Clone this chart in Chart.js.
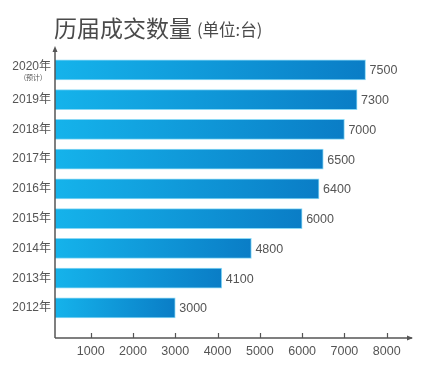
<!DOCTYPE html>
<html><head><meta charset="utf-8">
<script src="https://cdn.jsdelivr.net/npm/chart.js@4/dist/chart.umd.min.js"></script>
<style>html,body{margin:0;padding:0;background:#fff}#wrap{width:444px;height:377px}</style>
</head><body><div id="wrap"><canvas id="c" width="444" height="377"></canvas></div>
<script>
const categories = ['2012年','2013年','2014年','2015年','2016年','2017年','2018年','2019年','2020年'];
const values = [3000,4100,4800,6000,6400,6500,7000,7300,7500];
const xTickValues = [1000,2000,3000,4000,5000,6000,7000,8000];
const titleMain = '历届成交数量';
const titleUnit = '(单位:台)';
const noteLabel = '(预计)';
const noteIndex = 8;

const FONT = '"Liberation Sans","Noto Sans CJK SC",sans-serif';
const TFONT = '"Noto Sans CJK SC",sans-serif';
const GREY = '#555555';

const overlay = {
  id: 'overlay',
  afterDraw(chart) {
    const ctx = chart.ctx, a = chart.chartArea, xs = chart.scales.x, ys = chart.scales.y;
    ctx.save();
    // title
    ctx.fillStyle = '#4a4a4a';
    ctx.textBaseline = 'alphabetic';
    ctx.textAlign = 'left';
    ctx.font = '23px ' + TFONT;
    ctx.fillText(titleMain, 54, 37);
    const w = ctx.measureText(titleMain).width;
    ctx.font = '16.5px ' + TFONT;
    ctx.fillText(titleUnit, 54 + w + 5, 36);
    // axes
    ctx.strokeStyle = GREY; ctx.fillStyle = GREY; ctx.lineWidth = 1.5;
    ctx.beginPath();
    ctx.moveTo(a.left, a.bottom); ctx.lineTo(a.left, a.top + 2);
    ctx.moveTo(a.left, a.bottom); ctx.lineTo(a.right + 2, a.bottom);
    ctx.stroke();
    ctx.beginPath();
    ctx.moveTo(a.left, a.top - 1); ctx.lineTo(a.left - 2.5, a.top + 5); ctx.lineTo(a.left + 2.5, a.top + 5); ctx.closePath(); ctx.fill();
    ctx.beginPath();
    ctx.moveTo(a.right + 3, a.bottom); ctx.lineTo(a.right - 3, a.bottom - 2.5); ctx.lineTo(a.right - 3, a.bottom + 2.5); ctx.closePath(); ctx.fill();
    // inward ticks
    ctx.lineWidth = 1.2;
    ctx.beginPath();
    xTickValues.forEach(v => { const px = Math.round(xs.getPixelForValue(v)) + 0.5; ctx.moveTo(px, a.bottom); ctx.lineTo(px, a.bottom - 5); });
    ctx.stroke();
    // value labels
    ctx.font = '12.5px ' + FONT;
    ctx.fillStyle = GREY;
    ctx.textBaseline = 'middle';
    const meta = chart.getDatasetMeta(0);
    meta.data.forEach((bar, i) => { ctx.fillText(String(values[i]), bar.x + 4, bar.y + 1); });
    // note under 2020
    ctx.font = '7px ' + TFONT;
    ctx.textAlign = 'center';
    ctx.fillText(noteLabel, 33, ys.getPixelForValue(noteIndex) + 7);
    ctx.restore();
  }
};

new Chart(document.getElementById('c'), {
  type: 'bar',
  data: {
    datasets: [{
      data: values.map((v, i) => ({ x: v, y: i })),
      barThickness: 20,
      borderWidth: 1,
      borderSkipped: 'left',
      borderColor: 'rgba(125,212,244,0.9)',
      backgroundColor(c) {
        const chart = c.chart, a = chart.chartArea;
        if (!a || !chart.scales.x || c.raw == null) return '#0a9ad8';
        const x0 = a.left, x1 = chart.scales.x.getPixelForValue(c.raw.x);
        const g = chart.ctx.createLinearGradient(x0, 0, Math.max(x1, x0 + 1), 0);
        g.addColorStop(0, '#15b3eb');
        g.addColorStop(1, '#0a7dc6');
        return g;
      }
    }]
  },
  options: {
    indexAxis: 'y',
    responsive: false,
    animation: false,
    layout: { padding: { top: 47, right: 34, left: 0, bottom: 0 } },
    plugins: { legend: { display: false }, tooltip: { enabled: false }, title: { display: false } },
    scales: {
      x: {
        type: 'linear', min: 156, max: 8551, offset: false,
        grid: { display: false, drawTicks: false }, border: { display: false },
        afterBuildTicks(s) { s.ticks = xTickValues.map(v => ({ value: v })); },
        afterFit(s) { s.height = 39; },
        ticks: { padding: 6, color: GREY, font: { family: FONT, size: 12.5 }, maxRotation: 0, autoSkip: false, callback: v => String(v) }
      },
      y: {
        type: 'linear', min: -1.01, max: 8.77, offset: false,
        grid: { display: false, drawTicks: false }, border: { display: false },
        afterBuildTicks(s) { s.ticks = categories.map((c, i) => ({ value: i })); },
        afterFit(s) { s.width = 55; s.paddingTop = 0; s.paddingBottom = 0; },
        ticks: {
          padding: 4, color: GREY, autoSkip: false,
          font: { family: FONT, size: 12, lineHeight: 0.6 },
          callback: v => (v === noteIndex ? [categories[v], ''] : categories[v])
        }
      }
    }
  },
  plugins: [overlay]
});
</script>
</body></html>
